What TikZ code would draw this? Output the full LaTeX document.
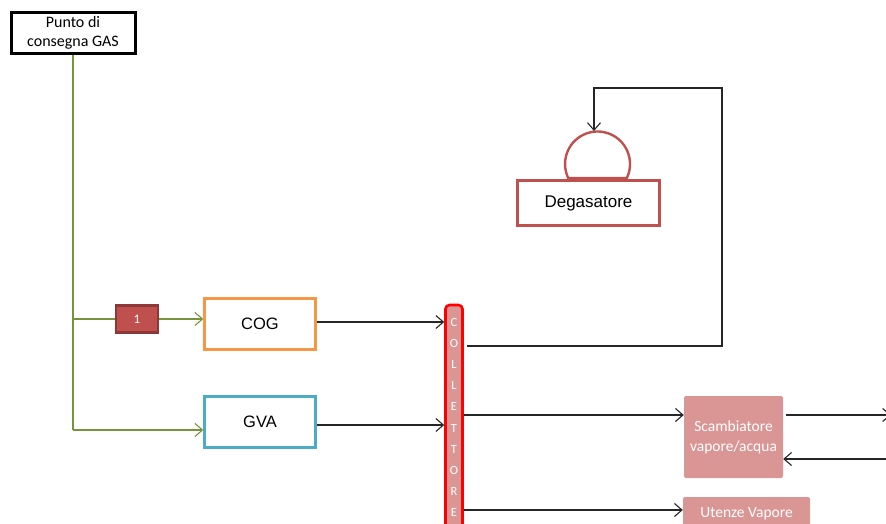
\documentclass[tikz,border=0pt]{standalone}
\usepackage{fontspec}
\setmainfont{Liberation Sans}
\newfontfamily\calib{Carlito}
\usetikzlibrary{arrows.meta}
\definecolor{gasgreen}{HTML}{77933C}
\definecolor{cogorange}{HTML}{F79646}
\definecolor{gvablue}{HTML}{4BACC6}
\definecolor{degred}{HTML}{C0504D}
\definecolor{darkred}{HTML}{8C3836}
\definecolor{pinkfill}{HTML}{D99694}
\tikzset{
  tip/.style={-{Straight Barb[length=7.5pt,width=13pt,line width=1.1pt]}},
  gasline/.style={draw=gasgreen,line width=1.2pt},
  flow/.style={draw=black!85,line width=1.2pt},
  unitbox/.style={draw,line width=2.4pt,minimum width=111pt,minimum height=51pt,font=\fontsize{16.5}{20}\selectfont,inner sep=0pt},
  pinkbox/.style={fill=pinkfill,rounded corners=2pt,text=white,align=center,font=\calib\fontsize{15.5}{20}\selectfont,inner sep=0pt},
}
\begin{document}
\begin{tikzpicture}[x=1pt,y=-1pt]
\useasboundingbox (0,0) rectangle (886,524);
\clip (0,0) rectangle (886,524);

% gas delivery point
\node[draw,line width=3pt,minimum width=124pt,minimum height=41pt,inner sep=0pt,align=center,
      font=\calib\fontsize{16}{19.5}\selectfont] (punto) at (73,33) {Punto di\\consegna GAS};

% generators
\node[unitbox,draw=cogorange] (cog) at (260,324) {COG};
\node[unitbox,draw=gvablue] (gva) at (260,422) {GVA};
\node[fill=degred,draw=darkred,line width=2.4pt,minimum width=42pt,minimum height=27pt,inner sep=0pt,
      text=white,font=\calib\fontsize{13}{15}\selectfont] (one) at (137,319) {1};

% gas distribution
\coordinate (j1) at (73,319);
\coordinate (j2) at (73,430);
\draw[gasline] (punto.south) -- (j2);
\draw[gasline] (j1) -- (one.west);
\draw[gasline,tip] (one.east) -- (one.east -| cog.west);
\draw[gasline,tip] (j2) -- (j2 -| gva.west);

% header
\node[draw=red,fill=pinkfill,line width=2.6pt,rounded corners=4pt,minimum width=17pt,minimum height=250pt,inner sep=0pt] (coll) at (454,430) {};
\foreach \l [count=\i from 0] in {C,O,L,L,E,T,T,O,R,E}
  \node[text=white,font=\calib\fontsize{12.5}{14}\selectfont,inner sep=0pt] (letter\i) at (454,322+21.2*\i) {\l};

\draw[flow,tip] (cog.east |- 0,322) -- (coll.west |- 0,322);
\draw[flow,tip] (gva.east |- 0,425) -- (coll.west |- 0,425);

% degasser
\node[draw=degred,line width=2.4pt,minimum width=142pt,minimum height=45pt,inner sep=0pt,
      font=\fontsize{17}{20}\selectfont] (deg) at (588.5,203) {Degasatore};
\draw[draw=degred,line width=2.4pt] (568.2,178) arc[start angle=154.5,end angle=385.5,radius=32.5] -- cycle;
\coordinate (dometop) at (594,131);

\coordinate (c1) at (467,346);
\coordinate (c2) at (722,346);
\coordinate (c3) at (722,88);
\coordinate (c4) at (594,88);
\draw[flow,tip] (c1) -- (c2) -- (c3) -- (c4) -- (dometop);

% steam users
\node[pinkbox,minimum width=99pt,minimum height=82pt] (scamb) at (733.5,437) {Scambiatore\\vapore/acqua};
\node[pinkbox,minimum width=127pt,minimum height=34pt] (utenze) at (746.5,514) {Utenze Vapore};

\draw[flow,tip] (coll.east |- 0,415) -- (scamb.west |- 0,415);
\draw[flow,tip] (coll.east |- 0,510) -- (utenze.west |- 0,510);

\coordinate (out1) at (891,415);
\coordinate (in1) at (900,459);
\draw[flow,tip] ([xshift=3pt]scamb.east |- 0,415) -- (out1);
\draw[flow,tip] (in1) -- (scamb.east |- 0,459);
\end{tikzpicture}
\end{document}
